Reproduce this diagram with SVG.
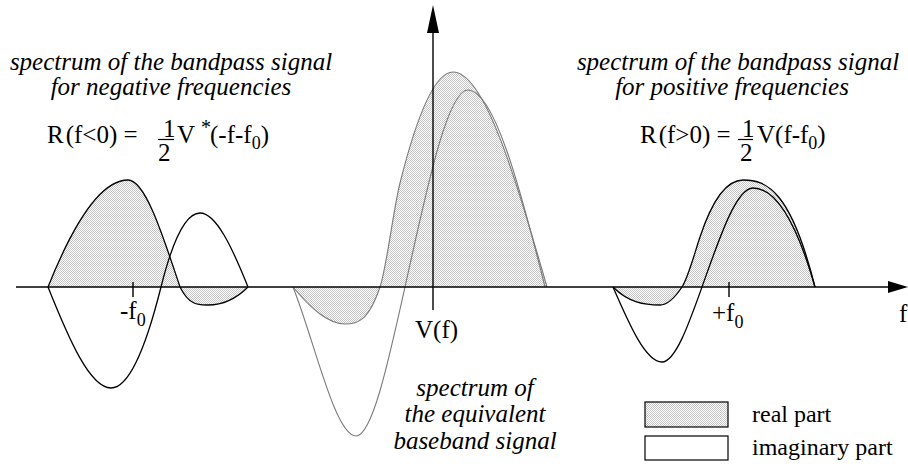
<svg xmlns="http://www.w3.org/2000/svg" width="908" height="464" viewBox="0 0 908 464">
<defs>
<pattern id="shade" width="2" height="2" patternUnits="userSpaceOnUse">
<rect width="2" height="2" fill="#ffffff"/>
<rect x="0" y="0" width="1" height="1" fill="#c4c4c4"/>
<rect x="1" y="1" width="1" height="1" fill="#c4c4c4"/>
</pattern>
<style>
.t{font-family:"Liberation Serif","Times New Roman",serif;font-size:25px;fill:#000}
.i{font-style:italic}
.sub{font-size:18px}
.lg{font-size:24px}
.blk{fill:none;stroke:#000;stroke-width:1.3}
.gry{fill:none;stroke:#7a7a7a;stroke-width:1.1}
.fill{fill:url(#shade);stroke:none}
.ax{stroke:#000;stroke-width:1.4;fill:none}
</style>
</defs>
<rect width="908" height="464" fill="#ffffff"/>

<g id="left-spectrum">
<path class="fill" d="M48,287 C74.7,220.3 101.3,180 128,180 C145.3,180 162.7,235 180,287 C189.3,305.7 198.7,305 208,305 C221.3,305 234.7,300.3 248,287 Z"/>
<path class="blk" d="M48,287 C74.7,220.3 101.3,180 128,180 C145.3,180 162.7,235 180,287 C189.3,305.7 198.7,305 208,305 C221.3,305 234.7,300.3 248,287"/>
<path class="blk" d="M48,287 C69,339.5 90,388 111,388 C127.7,388 144.3,353.7 161,287 C174,235 187,213 200,213 C216,213 232,247 248,287"/>
</g>

<g id="center-spectrum">
<path class="fill" d="M293,287 C310.3,307.8 327.7,324 345,324 C356.7,324 368.3,322 380,287 C386.7,267 393.3,209.7 400,183 C417.7,112.3 435.3,72 453,72 C484.3,72 515.7,177.3 547,287 Z"/>
<path class="gry" d="M293,287 C310.3,307.8 327.7,324 345,324 C356.7,324 368.3,322 380,287 C386.7,267 393.3,209.7 400,183 C417.7,112.3 435.3,72 453,72 C484.3,72 515.7,177.3 547,287"/>
<path class="gry" d="M293,287 C314,339.5 335,436 356,436 C372.3,436 388.7,360.5 405,287 C426,192.5 447,90 468,90 C493.7,90 519.3,184.3 545,287"/>
</g>

<g id="right-spectrum">
<path class="fill" d="M613,287 C628.7,302.7 644.3,305 660,305 C667.3,305 674.7,298 682,287 C688,278 694,255 700,237 C714.3,194 728.7,180 743,180 C767,180 791,191 815,287 Z"/>
<path class="blk" d="M613,287 C628.7,302.7 644.3,305 660,305 C667.3,305 674.7,298 682,287 C688,278 694,255 700,237 C714.3,194 728.7,180 743,180 C767,180 791,191 815,287"/>
<path class="blk" d="M613,287 C629.3,324.6 645.7,362 662,362 C675.3,362 688.7,324.3 702,287 C719,239.4 736,188 753,188 C773.7,188 794.3,214.7 815,287"/>
</g>

<g id="connectors">
<line class="ax" x1="16" y1="287" x2="890" y2="287"/>
<polygon points="908,287 888,281 888,293" fill="#000"/>
<line class="ax" x1="433" y1="310" x2="433" y2="30"/>
<polygon points="433,5 427,33 439,33" fill="#000"/>
<line class="ax" x1="133" y1="282" x2="133" y2="297"/>
<line class="ax" x1="729" y1="282" x2="729" y2="297"/>
</g>

<g id="labels">
<text class="t i" x="171" y="70" text-anchor="middle">spectrum of the bandpass signal</text>
<text class="t i" x="171" y="95" text-anchor="middle">for negative frequencies</text>
<text class="t i" x="738" y="70" text-anchor="middle">spectrum of the bandpass signal</text>
<text class="t i" x="732" y="95" text-anchor="middle">for positive frequencies</text>

<text class="t" x="47" y="143">R<tspan dx="2">(f&lt;0) =</tspan></text>
<text class="t" x="163" y="137">1</text>
<line x1="158" y1="139.5" x2="174" y2="139.5" stroke="#000" stroke-width="1.2"/>
<text class="t" x="158" y="161">2</text>
<text class="t" x="177" y="143">V</text>
<text class="t" x="201" y="134" style="font-size:20px">*</text>
<text class="t" x="210" y="143">(-f-f<tspan class="sub" dy="6">0</tspan><tspan dy="-6">)</tspan></text>

<text class="t" x="640" y="143">R<tspan dx="2">(f&gt;0) =</tspan></text>
<text class="t" x="742" y="137">1</text>
<line x1="738" y1="139.5" x2="753" y2="139.5" stroke="#000" stroke-width="1.2"/>
<text class="t" x="740" y="161">2</text>
<text class="t" x="757" y="143">V(f-f<tspan class="sub" dy="6">0</tspan><tspan dy="-6">)</tspan></text>

<text class="t" x="120" y="319">-f<tspan class="sub" dy="7">0</tspan></text>
<text class="t" x="712" y="321">+f<tspan class="sub" dy="7">0</tspan></text>
<text class="t" x="415" y="338">V(f)</text>
<text class="t" x="899" y="322">f</text>

<text class="t i" x="475" y="396" text-anchor="middle">spectrum of</text>
<text class="t i" x="475" y="422" text-anchor="middle">the equivalent</text>
<text class="t i" x="475" y="449" text-anchor="middle">baseband signal</text>
</g>

<g id="legend">
<rect x="645" y="402" width="83" height="25" fill="url(#shade)" stroke="#000" stroke-width="1.2"/>
<text class="t lg" x="752" y="422">real part</text>
<rect x="645" y="436" width="83" height="24" fill="#fff" stroke="#000" stroke-width="1.2"/>
<text class="t lg" x="752" y="455">imaginary part</text>
</g>
</svg>
